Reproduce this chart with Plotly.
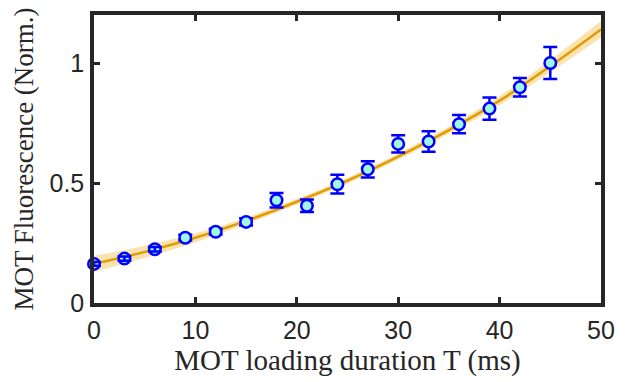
import plotly.graph_objects as go

# Measured data
t_ms = [0, 3, 6, 9, 12, 15, 18, 21, 24, 27, 30, 33, 36, 39, 42, 45]
fluor = [0.163, 0.185, 0.224, 0.272, 0.297, 0.338, 0.428, 0.405, 0.495, 0.557,
         0.663, 0.673, 0.745, 0.81, 0.899, 1.0]
fluor_err = [0.008, 0.009, 0.009, 0.012, 0.012, 0.015, 0.03, 0.026, 0.039, 0.034,
             0.036, 0.043, 0.038, 0.046, 0.039, 0.067]

# Fit curve and its confidence half-width
fit_t = [0, 5, 10, 15, 20, 25, 30, 35, 40, 45, 50]
fit_y = [0.163, 0.213, 0.272, 0.342, 0.422, 0.51, 0.61, 0.72, 0.843, 0.987, 1.140]
fit_hw = [0.034, 0.026, 0.019, 0.014, 0.012, 0.012, 0.013, 0.015, 0.019, 0.026, 0.035]

x_ticks = [0, 10, 20, 30, 40, 50]
y_ticks = [0, 0.5, 1]
y_tick_labels = ["0", "0.5", "1"]

upper = [y + h for y, h in zip(fit_y, fit_hw)]
lower = [y - h for y, h in zip(fit_y, fit_hw)]

BLUE = "#0000ff"
FIT = "#e39c00"
BAND = "rgba(237,177,32,0.35)"
AX = "#262626"
TICKFONT = dict(family="Liberation Sans, Arial", size=25, color=AX)
SERIF = "Liberation Serif, Times New Roman"

fig = go.Figure()
fig.add_trace(go.Scatter(x=fit_t, y=upper, mode="lines", line=dict(width=0, shape="spline"),
                         hoverinfo="skip", showlegend=False))
fig.add_trace(go.Scatter(x=fit_t, y=lower, mode="lines", line=dict(width=0, shape="spline"),
                         fill="tonexty", fillcolor=BAND, hoverinfo="skip", showlegend=False))
fig.add_trace(go.Scatter(x=fit_t, y=fit_y, mode="lines",
                         line=dict(color=FIT, width=2.5, shape="spline"), showlegend=False))
# error bars (behind markers)
fig.add_trace(go.Scatter(x=t_ms, y=fluor, mode="markers",
                         marker=dict(size=1, opacity=0),
                         error_y=dict(type="data", array=fluor_err, visible=True,
                                      color=BLUE, thickness=2.5, width=7),
                         cliponaxis=False, showlegend=False))
# markers
fig.add_trace(go.Scatter(x=t_ms, y=fluor, mode="markers",
                         marker=dict(symbol="circle", size=11.5, color="#a0f7e6",
                                     line=dict(color=BLUE, width=2.5)),
                         cliponaxis=False, showlegend=False))
# tiny error bars drawn on top of the first markers
fig.add_trace(go.Scatter(x=t_ms[:3], y=fluor[:3], mode="markers",
                         marker=dict(size=1, opacity=0),
                         error_y=dict(type="data", array=fluor_err[:3], visible=True,
                                      color=BLUE, thickness=2.5, width=6),
                         cliponaxis=False, showlegend=False))

# the page body adds an 8px offset, so the margins are shifted to compensate
fig.update_layout(
    width=634, height=382,
    margin=dict(l=86, r=41, t=7, b=87),
    paper_bgcolor="white", plot_bgcolor="white",
    showlegend=False,
)
fig.update_xaxes(
    range=[0, 50], tickvals=x_ticks, ticks="inside", ticklen=6, tickwidth=3,
    tickcolor=AX, showline=True, linecolor=AX, linewidth=3.5, mirror="ticks",
    showgrid=False, zeroline=False, automargin=False,
    tickfont=TICKFONT, ticklabelstandoff=2,
    title=dict(text="MOT loading duration T (ms)", standoff=8,
               font=dict(family=SERIF, size=29, color=AX)),
)
fig.update_yaxes(
    range=[0, 1.2], tickvals=y_ticks, ticktext=y_tick_labels, ticks="inside", ticklen=6,
    tickwidth=3, tickcolor=AX, showline=True, linecolor=AX, linewidth=3.5, mirror="ticks",
    showgrid=False, zeroline=False, automargin=False,
    tickfont=TICKFONT, ticklabelstandoff=1,
    title=dict(text="MOT Fluorescence (Norm.)", standoff=9,
               font=dict(family=SERIF, size=27, color=AX)),
)

fig.write_html("out.html")
